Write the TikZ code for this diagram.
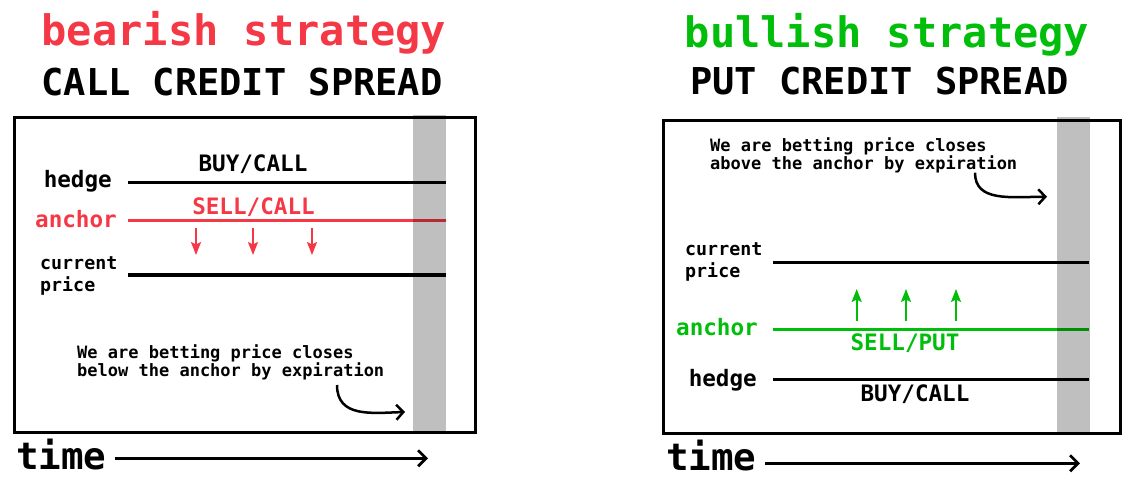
\documentclass[tikz,border=0pt]{standalone}
\usepackage{fontspec}
\setmonofont{DejaVu Sans Mono}
\usepackage{tikz}
\usetikzlibrary{arrows.meta}
\definecolor{bearred}{RGB}{245,56,70}
\definecolor{bullgreen}{RGB}{0,190,10}
\tikzstyle{bigtitle} = [font=\ttfamily\bfseries\fontsize{42}{42}\selectfont,
    inner sep=0pt, anchor=base]
\tikzstyle{spreadtitle} = [font=\ttfamily\bfseries\fontsize{37}{37}\selectfont,
    inner sep=0pt, anchor=base]
\tikzstyle{linelabel} = [font=\ttfamily\bfseries\fontsize{22.6}{24}\selectfont, inner sep=0pt]
\tikzstyle{pricelabel} = [font=\ttfamily\bfseries\fontsize{18.3}{21.7}\selectfont,
    inner sep=0pt, align=left, anchor=west]
\tikzstyle{notetext} = [font=\ttfamily\bfseries\fontsize{17}{18.4}\selectfont,
    inner sep=0pt, align=left, anchor=north west]
\tikzstyle{timetext} = [font=\ttfamily\bfseries\fontsize{37.5}{37.5}\selectfont,
    inner sep=0pt, anchor=base west]
\tikzstyle{frame} = [draw=black, line width=3pt]
\tikzstyle{level} = [line width=3.5pt]
\tikzstyle{expiry} = [fill=black, fill opacity=0.25]
\tikzstyle{move} = [line width=2pt, -{Stealth[length=13pt,width=10pt,inset=2.5pt]}]
\tikzstyle{curl} = [line width=2.5pt, -{Straight Barb[length=7pt,width=15pt]}]
\tikzstyle{timeline} = [line width=2.7pt, -{Straight Barb[length=8pt,width=16pt]}]

\begin{document}
\begin{tikzpicture}[x=1pt, y=-1pt]
                \useasboundingbox (0,0) rectangle (1128,477);
                % bearish side
                \node[bigtitle, text=bearred] (beartitle) at (244,45) {bearish strategy};
                \node[spreadtitle] (calltitle) at (242,95) {CALL CREDIT SPREAD};
                \coordinate (callhedgeL) at (128,182.5);
                \coordinate (callhedgeR) at (446,182.5);
                \coordinate (callanchorL) at (128,220.5);
                \coordinate (callanchorR) at (446,220.5);
                \coordinate (callpriceL) at (128,275);
                \coordinate (callpriceR) at (446,275);
                \draw[level] (callhedgeL) -- (callhedgeR);
                \draw[level, bearred] (callanchorL) -- (callanchorR);
                \draw[level] (callpriceL) -- (callpriceR);
                \foreach \x in {196,253,312}
                    \draw[move, bearred] (\x,228) -- (\x,255);
                \node[linelabel, anchor=base east] (callhedge) at (112,187) {hedge};
                \node[linelabel, anchor=base east, text=bearred] (callanchor) at (117,227) {anchor};
                \node[pricelabel] (callprice) at (40,276) {current\\price};
                \node[linelabel, anchor=base] (callbuy) at (253,171.7) {BUY/CALL};
                \node[linelabel, anchor=base, text=bearred] (callsell) at (253.5,214) {SELL/CALL};
                \node[notetext] (callnote) at (77,344) {We are betting price closes\\below the anchor by expiration};
                \coordinate (callcurl) at (337,385);
                \coordinate (callexpiry) at (405,412);
                \draw[curl] (callcurl) .. controls (337,418) and (372,413) .. (callexpiry);
                \fill[expiry] (413,115) rectangle (446,432);
                \draw[frame] (14,117) rectangle (475,432);
                \node[timetext] (calltime) at (16,469) {time};
                \coordinate (calltimeA) at (115,458.3);
                \coordinate (calltimeB) at (428,458.3);
                \draw[timeline] (calltimeA) -- (calltimeB);
                % bullish side
                \node[bigtitle, text=bullgreen] (bulltitle) at (887,47) {bullish strategy};
                \node[spreadtitle] (puttitle) at (879.5,94) {PUT CREDIT SPREAD};
                \coordinate (putpriceL) at (773,262.7);
                \coordinate (putpriceR) at (1089,262.7);
                \coordinate (putanchorL) at (773,329.3);
                \coordinate (putanchorR) at (1089,329.3);
                \coordinate (puthedgeL) at (773,379.3);
                \coordinate (puthedgeR) at (1089,379.3);
                \draw[level] (putpriceL) -- (putpriceR);
                \draw[level, bullgreen] (putanchorL) -- (putanchorR);
                \draw[level] (puthedgeL) -- (puthedgeR);
                \foreach \x in {856.7,906,956}
                    \draw[move, bullgreen] (\x,320.7) -- (\x,289);
                \node[pricelabel] (putprice) at (685,262) {current\\price};
                \node[linelabel, anchor=base east, text=bullgreen] (putanchor) at (758,335) {anchor};
                \node[linelabel, anchor=base east] (puthedge) at (757,386) {hedge};
                \node[linelabel, anchor=base, text=bullgreen] (putsell) at (905,350.7) {SELL/PUT};
                \node[linelabel, anchor=base] (putbuy) at (915,401.7) {BUY/CALL};
                \node[notetext] (putnote) at (710,137) {We are betting price closes\\above the anchor by expiration};
                \coordinate (putcurl) at (975,172.7);
                \coordinate (putexpiry) at (1047,196.7);
                \draw[curl] (putcurl) .. controls (975,202) and (1010,197) .. (putexpiry);
                \fill[expiry] (1057,117) rectangle (1090,433);
                \draw[frame] (663,120) rectangle (1120,433);
                \node[timetext] (puttime) at (666,470) {time};
                \coordinate (puttimeA) at (765,463.3);
                \coordinate (puttimeB) at (1080,463.3);
                \draw[timeline] (puttimeA) -- (puttimeB);
            \end{tikzpicture}
\end{document}
